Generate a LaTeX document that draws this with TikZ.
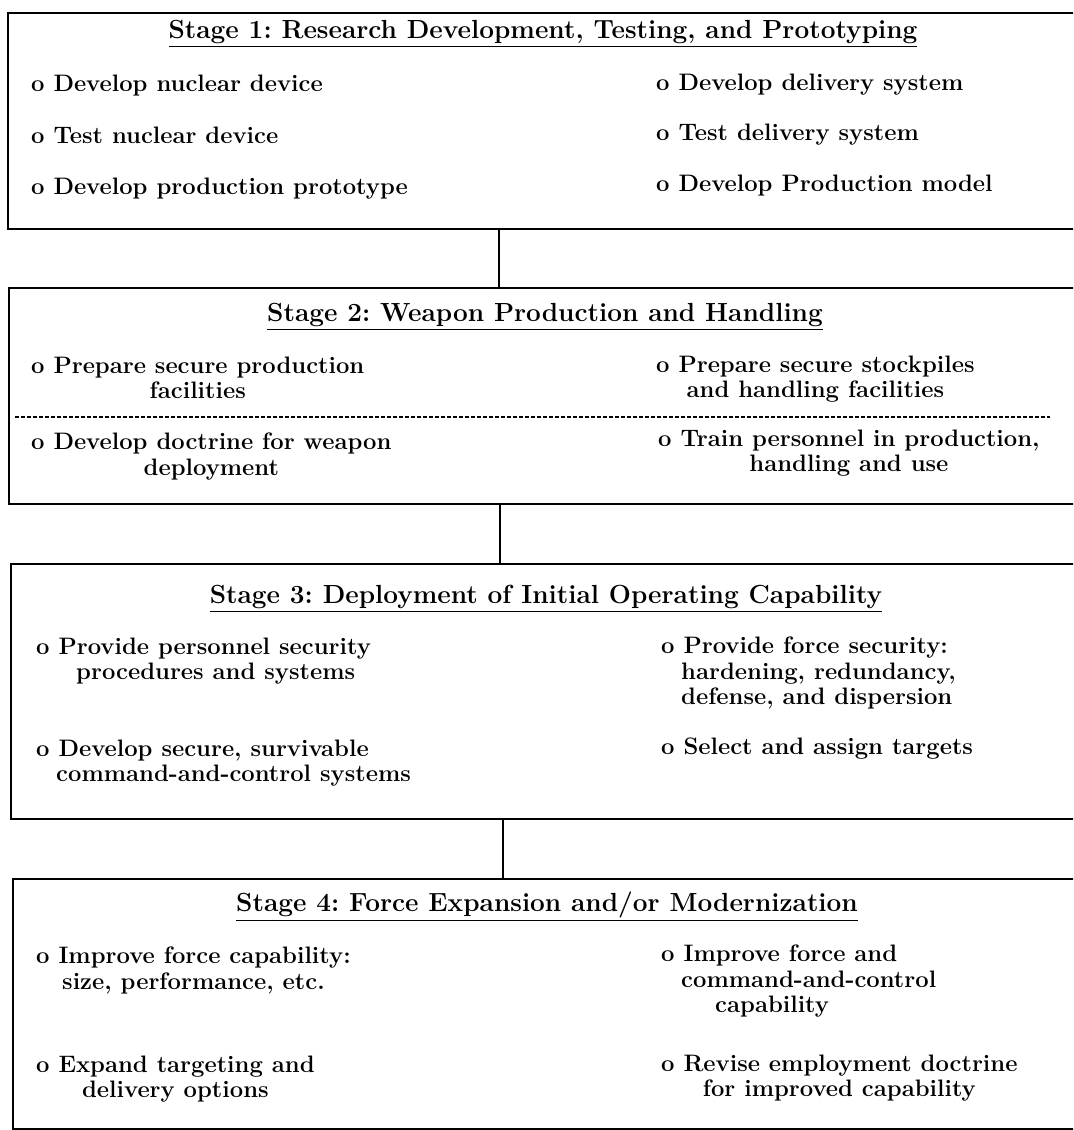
\documentclass[tikz,border=0pt]{standalone}
\usepackage{tikz}
\usetikzlibrary{positioning}
\newcommand{\itemfont}{\fontsize{11.9}{12.6}\selectfont\bfseries\frenchspacing}
\newcommand{\titlefont}{\fontsize{13.1}{14}\selectfont\bfseries\frenchspacing}
\tikzset{stage box/.style={draw,rectangle,anchor=north west,inner sep=0pt,minimum width=537.5pt},
	stage title/.style={anchor=base,inner sep=0pt,font=\titlefont},
	item node/.style={anchor=north west,inner sep=0pt,font=\itemfont,align=left},
	citem node/.style={item node,align=center},}

\begin{document}
\begin{tikzpicture}[x=0.5pt, y=-0.5pt, line width=1.2pt]
	\useasboundingbox (0,0) rectangle (1073,1130);
	\clip (0,0) rectangle (1073,1130);

	\node[stage box, minimum height=108pt] (s1) at (7,12) {};
	\node[stage box, minimum height=108pt] (s2) at (8,287) {};
	\node[stage box, minimum height=127.5pt] (s3) at (10,563) {};
	\node[stage box, minimum height=125pt] (s4) at (12,878) {};

	\node[stage title] (t1) at (543,38) {\underline{Stage 1: Research Development, Testing, and Prototyping}};
	\node[item node] (a1) at (30,74) {o Develop nuclear device};
	\node[item node] (a2) at (30,126) {o Test nuclear device};
	\node[item node] (a3) at (30,177) {o Develop production prototype};
	\node[item node] (b1) at (655,73) {o Develop delivery system};
	\node[item node] (b2) at (655,123) {o Test delivery system};
	\node[item node] (b3) at (655,174) {o Develop Production model};

	\node[stage title] (t2) at (545,321) {\underline{Stage 2: Weapon Production and Handling}};
	\node[citem node] (c1) at (30,356) {o Prepare secure production\\facilities};
	\node[citem node] (c2) at (30,432) {o Develop doctrine for weapon\\deployment};
	\node[citem node] (d1) at (655,355) {o Prepare secure stockpiles\\and handling facilities};
	\node[citem node] (d2) at (657,429) {o Train personnel in production,\\handling and use};
	\draw[dash pattern=on 2pt off 1pt, line width=0.6pt] (15,417) -- (1050,417);

	\node[stage title] (t3) at (546,603) {\underline{Stage 3: Deployment of Initial Operating Capability}};
	\node[item node] (e1) at (35,637) {o Provide personnel security\\\hspace*{20pt}procedures and systems};
	\node[item node] (e2) at (35,739) {o Develop secure, survivable\\\hspace*{10pt}command-and-control systems};
	\node[item node] (f1) at (660,636) {o Provide force security:\\\hspace*{10pt}hardening, redundancy,\\\hspace*{10pt}defense, and dispersion};
	\node[item node] (f2) at (660,737) {o Select and assign targets};

	\node[stage title] (t4) at (547,911) {\underline{Stage 4: Force Expansion and/or Modernization}};
	\node[citem node] (g1) at (35,946) {o Improve force capability:\\size, performance, etc.};
	\node[citem node] (g2) at (35,1055) {o Expand targeting and\\delivery options};
	\node[item node] (h1) at (660,944) {o Improve force and\\\hspace*{10pt}command-and-control\\\hspace*{27pt}capability};
	\node[citem node] (h2) at (660,1054) {o Revise employment doctrine\\for improved capability};

	\draw (s1.south -| 499,0) -- (s2.north -| 499,0);
	\draw (s2.south -| 500,0) -- (s3.north -| 500,0);
	\draw (s3.south -| 503,0) -- (s4.north -| 503,0);
\end{tikzpicture}
\end{document}
